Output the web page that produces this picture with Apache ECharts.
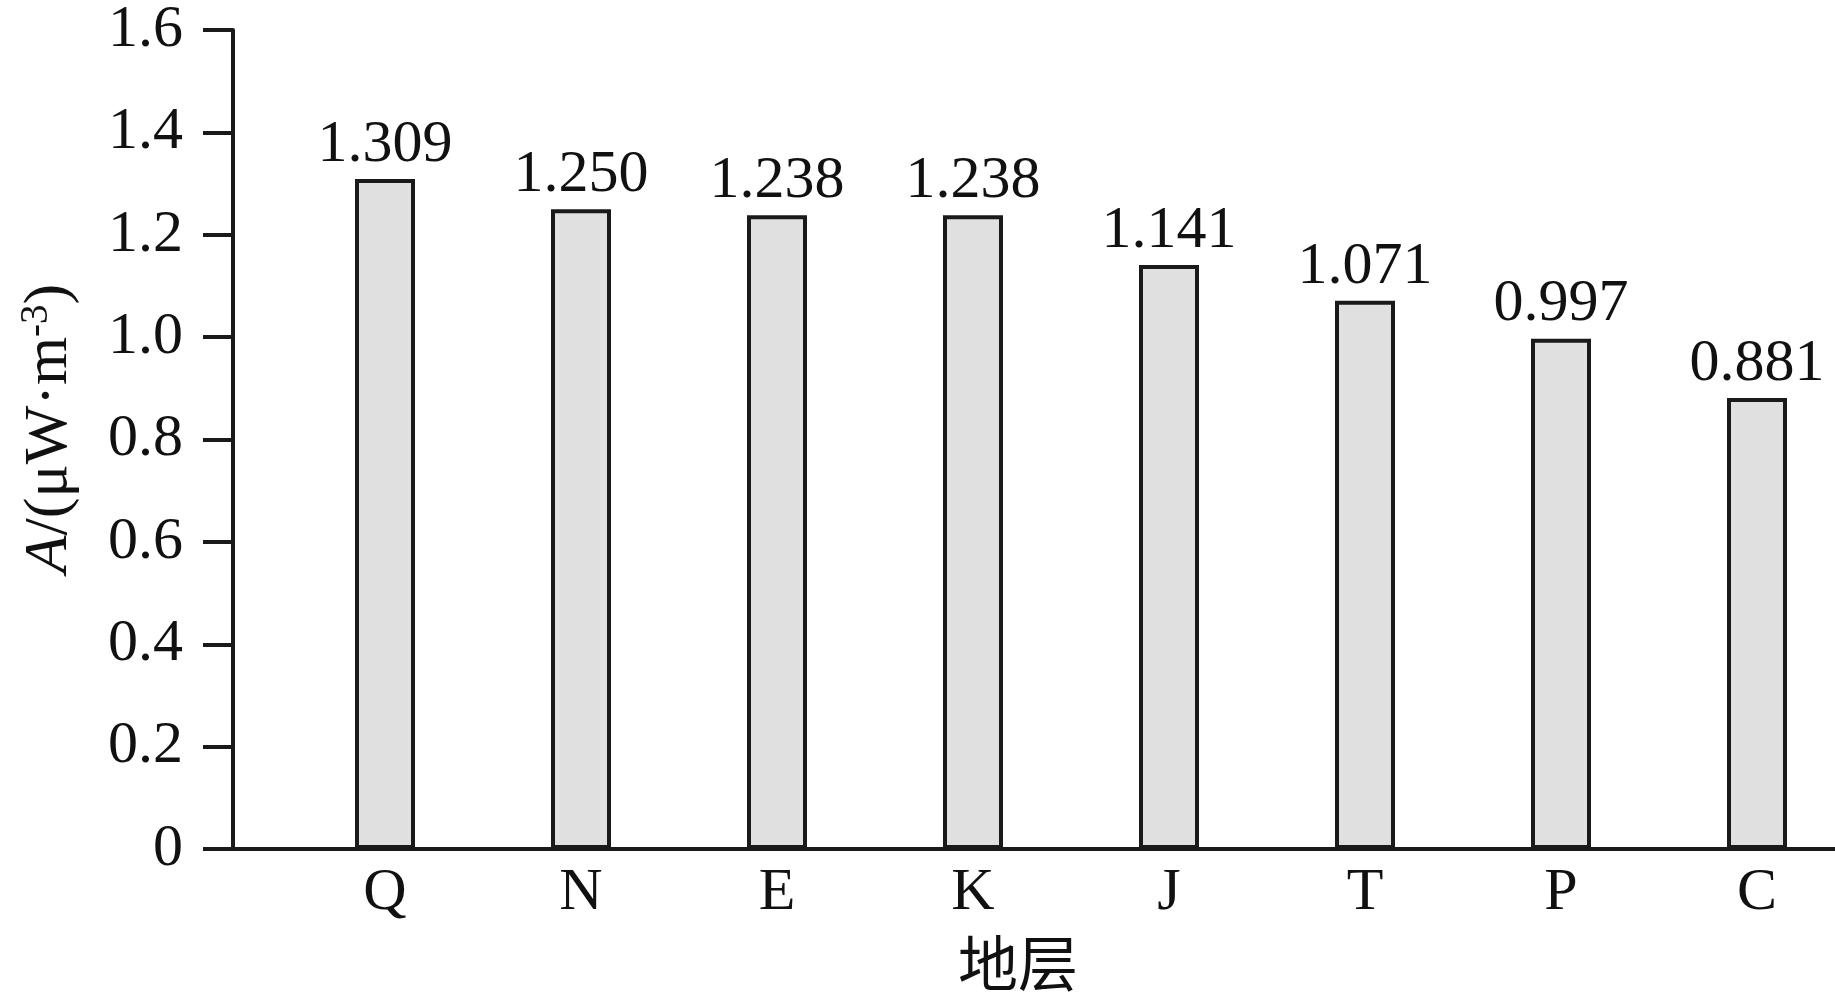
<!DOCTYPE html>
<html>
<head>
<meta charset="utf-8">
<script src="https://cdn.jsdelivr.net/npm/echarts@6/dist/echarts.min.js"></script>
<style>
html,body{margin:0;padding:0;background:#fff;}
#container{width:1835px;height:994px;}
</style>
</head>
<body>
<div id="container"></div>
<script>
// 地层分类
var strata = ['Q', 'N', 'E', 'K', 'J', 'T', 'P', 'C'];
// 生热率 A (μW·m-3)
var heatValue = [1.309, 1.250, 1.238, 1.238, 1.141, 1.071, 0.997, 0.881];
// y轴刻度
var yMin = 0, yMax = 1.6, yStep = 0.2;

var serif = '"Liberation Serif", "Times New Roman", serif';
var ink = '#1a1a1a';

var dom = document.getElementById('container');
var myChart = echarts.init(dom);
var option = {
    animation: false,
    backgroundColor: '#fff',
    grid: [
        {left: 233, right: 0, top: 30, bottom: 145, outerBoundsMode: 'none'},
        // 柱子所在的网格，比坐标轴略宽
        {left: 287, width: 1568, top: 30, bottom: 145, outerBoundsMode: 'none'}
    ],
    xAxis: [
        {
            gridIndex: 0,
            type: 'value',
            min: 0,
            max: 1,
            axisLine: {show: true, lineStyle: {color: ink, width: 4}},
            axisTick: {show: false},
            axisLabel: {show: false},
            splitLine: {show: false},
            name: '地层',
            nameLocation: 'middle',
            nameGap: 84,
            nameTextStyle: {
                fontFamily: '"Noto Sans CJK SC", sans-serif',
                fontSize: 60,
                color: '#111',
                padding: [0, 32, 0, 0]
            }
        },
        {
            gridIndex: 1,
            type: 'category',
            data: strata,
            axisLine: {show: false},
            axisTick: {show: false},
            axisLabel: {
                margin: 14,
                fontFamily: serif,
                fontSize: 60,
                color: '#111'
            }
        }
    ],
    yAxis: [
        {
            gridIndex: 0,
            type: 'value',
            min: yMin,
            max: yMax,
            interval: yStep,
            axisLine: {show: true, lineStyle: {color: ink, width: 4}},
            axisTick: {show: true, inside: false, length: 30, lineStyle: {color: ink, width: 4}},
            splitLine: {show: false},
            axisLabel: {
                margin: 50,
                fontFamily: serif,
                fontSize: 60,
                color: '#111',
                formatter: function (v) { return v === 0 ? '0' : v.toFixed(1); }
            },
            name: '{i|A}/(μW·m{s|-3})',
            nameLocation: 'middle',
            nameGap: 150,
            nameRotate: 90,
            nameTextStyle: {
                fontFamily: serif,
                fontSize: 62,
                color: '#111',
                padding: [0, 0, 0, 22],
                rich: {
                    i: {fontFamily: serif, fontSize: 62, fontStyle: 'italic', color: '#111'},
                    s: {fontFamily: serif, fontSize: 39, color: '#111', padding: [0, 0, 27, 0]}
                }
            }
        },
        {
            gridIndex: 1,
            type: 'value',
            min: yMin,
            max: yMax,
            interval: yStep,
            show: false
        }
    ],
    series: [
        {
            name: 'A',
            type: 'bar',
            xAxisIndex: 1,
            yAxisIndex: 1,
            data: heatValue,
            barWidth: 60,
            clip: false,
            itemStyle: {color: '#e0e0e0', borderColor: ink, borderWidth: 4},
            label: {
                show: true,
                position: 'top',
                distance: 4,
                fontFamily: serif,
                fontSize: 60,
                color: '#111',
                formatter: function (p) { return p.value.toFixed(3); }
            }
        }
    ]
};
myChart.setOption(option, true);
</script>
</body>
</html>
